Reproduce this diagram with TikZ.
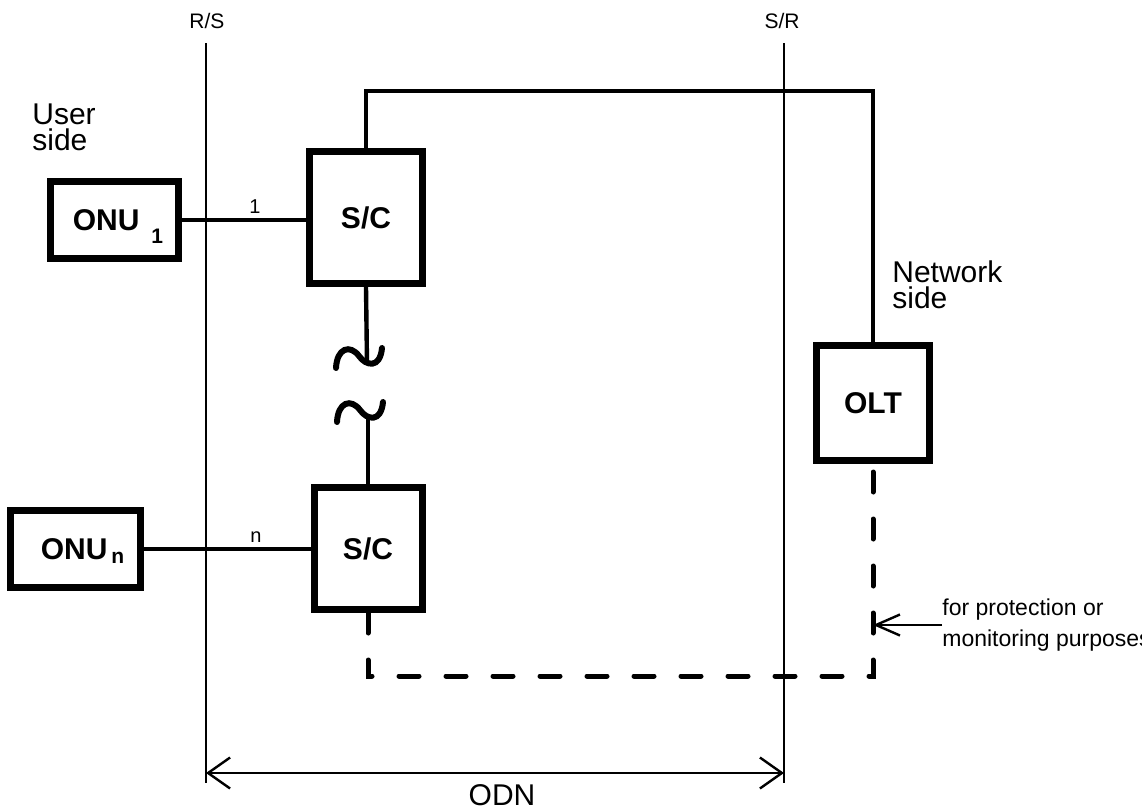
\documentclass[tikz,border=0pt]{standalone}
\usepackage{fontspec}
\setmainfont{Liberation Sans}
\usetikzlibrary{calc, arrows.meta}

\tikzset{
  unit/.style={draw, line width=3.5pt, inner sep=0pt, font=\bfseries\fontsize{15}{18}\selectfont},
  feed/.style={line width=2.2pt},
  wave/.style={line width=3pt, line cap=round},
  refline/.style={line width=1.2pt},
  protect/.style={line width=2.5pt, dash pattern=on 10pt off 13.5pt, line cap=round},
  side/.style={inner sep=0pt, align=left, font=\fontsize{15}{13}\selectfont},
  tag/.style={inner sep=0pt, font=\fontsize{10.5}{12}\selectfont},
}

\begin{document}
\begin{tikzpicture}[x=0.5pt, y=-0.5pt]
  \useasboundingbox (0,0) rectangle (1142,809);
  % reference points R/S and S/R
  \coordinate (rstop) at (206,43);
  \coordinate (rsbot) at (206,783);
  \coordinate (srtop) at (784,43);
  \coordinate (srbot) at (784,783);
  \draw[refline] (rstop) -- (rsbot);
  \draw[refline] (srtop) -- (srbot);
  \node[tag, anchor=base] (rs) at (207,28) {R/S};
  \node[tag, anchor=base] (sr) at (782,28) {S/R};

  \node[side, anchor=north west] (user) at (32,103) {User\\side};
  \node[side, anchor=north west] (net) at (892,260) {Network\\side};

  \node[unit, minimum width=64pt, minimum height=38.5pt] (onea) at (114.5,220)
    {\hspace*{3.5pt}ONU\hspace{6pt}\smash{\raisebox{-6.5pt}{\fontsize{10.5}{12}\selectfont 1}}};
  \node[unit, minimum width=65pt, minimum height=38.5pt] (onen) at (75.5,549)
    {\hspace*{7pt}ONU\hspace{2pt}\smash{\raisebox{-2pt}{\fontsize{10.5}{12}\selectfont n}}};
  \node[unit, minimum width=56.5pt, minimum height=66pt] (sca) at (366,217.5) {S/C};
  \node[unit, minimum width=54pt, minimum height=61pt] (scb) at (368,548.5) {S/C};
  \node[unit, minimum width=56.5pt, minimum height=57.5pt] (olt) at (873,403) {OLT};

  % drop links to the ONUs
  \draw[feed] (onea.east) -- (onea.east -| sca.west);
  \draw[feed] (onen.east) -- (onen.east -| scb.west);
  \node[tag, font=\fontsize{10}{12}\selectfont, anchor=base] (la) at (255,213) {1};
  \node[tag, font=\fontsize{10}{12}\selectfont, anchor=base] (ln) at (256,542) {n};

  % feeder to the OLT
  \coordinate (corner) at (873,91);
  \draw[feed] (sca.north) |- (corner) -- (olt.north);

  % break between the two splitters
  \coordinate (t1) at (367,364);
  \coordinate (t2) at (368,417);
  \draw[feed] (sca.south) -- (t1);
  \draw[wave] (336,368) .. controls (337,348) and (350,344) .. (359,356)
    .. controls (366,366) and (380,369) .. (382,348);
  \draw[wave] (337,422) .. controls (338,402) and (351,398) .. (360,410)
    .. controls (367,420) and (381,423) .. (383,402);
  \draw[feed] (t2) -- (scb.north);

  % protection path
  \coordinate (dcorner) at (873,676);
  \draw[protect] (scb.south) |- (dcorner) -- (olt.south);
  \node[anchor=west, inner sep=0pt, align=left, font=\fontsize{11.5}{15.5}\selectfont]
    (note) at (942,625) {for protection or\\monitoring purposes};
  \draw[refline, -{Straight Barb[length=12pt, width=10.5pt]}] (note.west) -- (note.west -| olt.south);

  % extent of the ODN
  \coordinate (odnl) at (206,773);
  \coordinate (odnr) at (784,773);
  \draw[refline, {Straight Barb[length=11pt, width=15.5pt]}-{Straight Barb[length=11pt, width=15.5pt]}] (odnl) -- (odnr);
  \node[anchor=base, inner sep=0pt, font=\fontsize{15}{18}\selectfont] (odn) at (502,805) {ODN};
\end{tikzpicture}
\end{document}
